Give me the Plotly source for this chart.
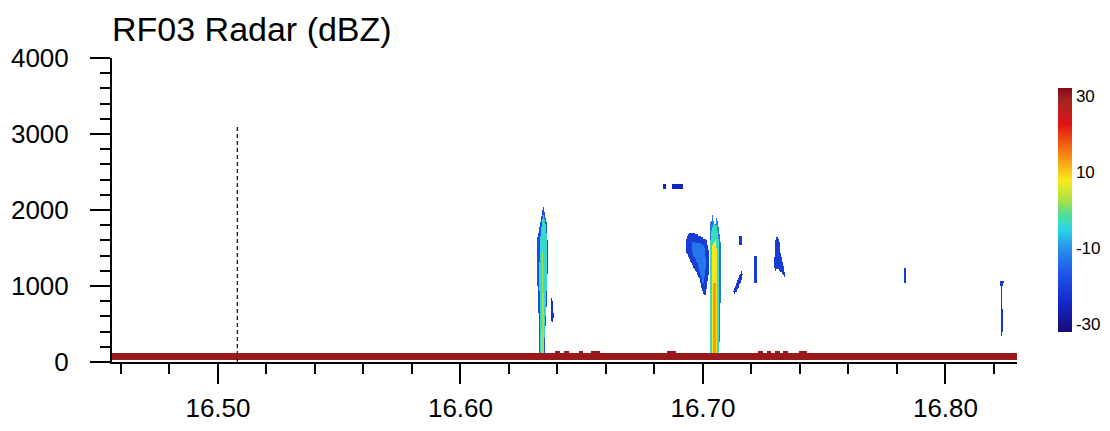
import numpy as np
import plotly.graph_objects as go

# ---- axes / scale -------------------------------------------------------
TIME_RANGE = [16.4563, 16.8295]          # UTC hours
HEIGHT_RANGE = [0, 4000]                 # metres
TIME_TICKS = [16.50, 16.60, 16.70, 16.80]
HEIGHT_TICKS = [0, 1000, 2000, 3000, 4000]
CBAR_TICKS = [-30, -10, 10, 30]
DBZ_MIN, DBZ_MAX = -32, 32

# ---- reference marker (dashed vertical) --------------------------------
MARKER_TIME = 16.508
MARKER_TOP = 3120

# ---- surface return ----------------------------------------------------
SURFACE_BASE = 15
SURFACE_TOP = 125
SURFACE_DBZ = 30
SURFACE_BUMP_TOP = 135
SURFACE_BUMP_T0 = [16.6390, 16.6428, 16.6485, 16.6538, 16.6852, 16.7228, 16.7262, 16.7300, 16.7330, 16.7395]
SURFACE_BUMP_T1 = [16.6410, 16.6445, 16.6505, 16.6575, 16.6885, 16.7245, 16.7280, 16.7318, 16.7350, 16.7430]

# ---- echo outlines: times (h), heights (m), reflectivity (dBZ) ---------
# painted in order, later layers on top
CELL_A_EDGE_T = [16.6340, 16.6353, 16.6357, 16.6357, 16.6353, 16.6348, 16.6345, 16.6322, 16.6324, 16.6320, 16.6315, 16.6315, 16.6328]
CELL_A_EDGE_H = [2066, 1830, 1600, 1170, 720, 420, 130, 130, 420, 720, 1170, 1600, 1830]
CELL_A_EDGE_DBZ = -18

CELL_A_MID_T = [16.6340, 16.6351, 16.6355, 16.6355, 16.6351, 16.6346, 16.6343, 16.6327, 16.6328, 16.6326, 16.6324, 16.6327, 16.6334]
CELL_A_MID_H = [1950, 1800, 1600, 1170, 720, 420, 130, 130, 420, 720, 1170, 1600, 1800]
CELL_A_MID_DBZ = -4

CELL_A_CORE_T = [16.6337, 16.6341, 16.6342, 16.6341, 16.6332, 16.6333, 16.6334]
CELL_A_CORE_H = [1450, 900, 420, 130, 130, 420, 900]
CELL_A_CORE_DBZ = 2

CELL_A_SIDE_T = [16.6375, 16.6381, 16.6386, 16.6381, 16.6374, 16.6376]
CELL_A_SIDE_H = [860, 800, 600, 510, 560, 700]
CELL_A_SIDE_DBZ = -23

CELL_B_EDGE_T = [16.7029, 16.7035, 16.7039, 16.7041, 16.7050, 16.7058, 16.7066, 16.7074, 16.7074, 16.7068, 16.7027, 16.7025, 16.7025]
CELL_B_EDGE_H = [1700, 1900, 1800, 1940, 1780, 1910, 1750, 1550, 900, 130, 130, 900, 1400]
CELL_B_EDGE_DBZ = -13

CELL_B_MID_T = [16.7035, 16.7044, 16.7058, 16.7066, 16.7069, 16.7065, 16.7031, 16.7030, 16.7031]
CELL_B_MID_H = [1700, 1820, 1800, 1600, 900, 130, 130, 900, 1500]
CELL_B_MID_DBZ = -3

CELL_B_HOT_T = [16.7041, 16.7054, 16.7060, 16.7061, 16.7059, 16.7037, 16.7038, 16.7039]
CELL_B_HOT_H = [1550, 1600, 1400, 800, 130, 130, 800, 1300]
CELL_B_HOT_DBZ = 8

CELL_B_CORE_T = [16.7045, 16.7054, 16.7056, 16.7055, 16.7043, 16.7043]
CELL_B_CORE_H = [1050, 1050, 500, 130, 130, 500]
CELL_B_CORE_DBZ = 13

ANVIL_B_T = [16.6930, 16.6946, 16.6971, 16.6988, 16.7012, 16.7021, 16.7021, 16.7008, 16.6996, 16.6984, 16.6963, 16.6942, 16.6930]
ANVIL_B_H = [1605, 1711, 1684, 1658, 1605, 1474, 1145, 855, 948, 1105, 1237, 1369, 1474]
ANVIL_B_DBZ = -21

ANVIL_B_INNER_T = [16.6955, 16.7004, 16.7012, 16.7000, 16.6975, 16.6955]
ANVIL_B_INNER_H = [1579, 1540, 1277, 1013, 1316, 1448]
ANVIL_B_INNER_DBZ = -13

FRAG_HIGH_1_T = [16.6836, 16.6848, 16.6848, 16.6836]
FRAG_HIGH_1_H = [2335, 2335, 2285, 2285]
FRAG_HIGH_2_T = [16.6872, 16.6918, 16.6918, 16.6872]
FRAG_HIGH_2_H = [2345, 2335, 2275, 2285]
FRAG_HIGH_DBZ = -25

FRAG_DOT_T = [16.7147, 16.7158, 16.7158, 16.7147]
FRAG_DOT_H = [1660, 1660, 1540, 1540]
FRAG_DOT_DBZ = -22

FRAG_STREAK_T = [16.7209, 16.7222, 16.7222, 16.7209]
FRAG_STREAK_H = [1410, 1410, 1040, 1040]
FRAG_STREAK_DBZ = -21

FRAG_WAVE_T = [16.7124, 16.7134, 16.7150, 16.7160, 16.7166, 16.7152, 16.7137, 16.7126]
FRAG_WAVE_H = [940, 1010, 1150, 1215, 1140, 1040, 920, 900]
FRAG_WAVE_DBZ = -22

FRAG_CLUSTER_T = [16.7303, 16.7316, 16.7320, 16.7331, 16.7340, 16.7327, 16.7310, 16.7294, 16.7290, 16.7298, 16.7300]
FRAG_CLUSTER_H = [1650, 1620, 1450, 1300, 1110, 1170, 1220, 1200, 1350, 1450, 1580]
FRAG_CLUSTER_DBZ = -21

FRAG_EAST_1_T = [16.7828, 16.7838, 16.7838, 16.7828]
FRAG_EAST_1_H = [1240, 1240, 1040, 1040]
FRAG_EAST_1_DBZ = -21

FRAG_EAST_2_T = [16.8224, 16.8242, 16.8234, 16.8237, 16.8240, 16.8234, 16.8228, 16.8229, 16.8226]
FRAG_EAST_2_H = [1055, 1055, 980, 700, 500, 316, 400, 700, 950]
FRAG_EAST_2_DBZ = -22

# ---- colour table (fraction of DBZ range -> colour) --------------------
COLOR_STOPS = [
    (0.00, "rgb(22,12,120)"),
    (0.12, "rgb(20,40,200)"),
    (0.25, "rgb(30,90,235)"),
    (0.35, "rgb(40,150,235)"),
    (0.42, "rgb(40,215,230)"),
    (0.48, "rgb(80,220,150)"),
    (0.54, "rgb(170,225,70)"),
    (0.62, "rgb(250,235,30)"),
    (0.72, "rgb(250,140,20)"),
    (0.85, "rgb(225,20,20)"),
    (0.95, "rgb(165,35,35)"),
    (1.00, "rgb(130,10,20)"),
]

FONT = "Liberation Sans, Arial, Helvetica, sans-serif"

# ---- build the reflectivity field --------------------------------------
t_grid = np.arange(TIME_RANGE[0] + 0.0002, TIME_RANGE[1], 0.0004)
h_grid = np.arange(10, 4000, 20)
T, H = np.meshgrid(t_grid, h_grid)
field = np.full(T.shape, np.nan)


def inside(pt, ph):
    """Even-odd point-in-polygon test over the whole grid."""
    mask = np.zeros(T.shape, dtype=bool)
    n = len(pt)
    j = n - 1
    for i in range(n):
        ti, hi, tj, hj = pt[i], ph[i], pt[j], ph[j]
        if hi != hj:
            crosses = (hi > H) != (hj > H)
            t_cross = (tj - ti) * (H - hi) / (hj - hi) + ti
            mask ^= crosses & (T < t_cross)
        j = i
    return mask


# surface return along the bottom
field[(H >= SURFACE_BASE) & (H <= SURFACE_TOP)] = SURFACE_DBZ
for a, b in zip(SURFACE_BUMP_T0, SURFACE_BUMP_T1):
    field[(H >= SURFACE_BASE) & (H <= SURFACE_BUMP_TOP) & (T >= a) & (T <= b)] = SURFACE_DBZ

layers = [
    (CELL_A_EDGE_T, CELL_A_EDGE_H, CELL_A_EDGE_DBZ),
    (CELL_A_MID_T, CELL_A_MID_H, CELL_A_MID_DBZ),
    (CELL_A_CORE_T, CELL_A_CORE_H, CELL_A_CORE_DBZ),
    (CELL_A_SIDE_T, CELL_A_SIDE_H, CELL_A_SIDE_DBZ),
    (ANVIL_B_T, ANVIL_B_H, ANVIL_B_DBZ),
    (ANVIL_B_INNER_T, ANVIL_B_INNER_H, ANVIL_B_INNER_DBZ),
    (CELL_B_EDGE_T, CELL_B_EDGE_H, CELL_B_EDGE_DBZ),
    (CELL_B_MID_T, CELL_B_MID_H, CELL_B_MID_DBZ),
    (CELL_B_HOT_T, CELL_B_HOT_H, CELL_B_HOT_DBZ),
    (CELL_B_CORE_T, CELL_B_CORE_H, CELL_B_CORE_DBZ),
    (FRAG_HIGH_1_T, FRAG_HIGH_1_H, FRAG_HIGH_DBZ),
    (FRAG_HIGH_2_T, FRAG_HIGH_2_H, FRAG_HIGH_DBZ),
    (FRAG_DOT_T, FRAG_DOT_H, FRAG_DOT_DBZ),
    (FRAG_STREAK_T, FRAG_STREAK_H, FRAG_STREAK_DBZ),
    (FRAG_WAVE_T, FRAG_WAVE_H, FRAG_WAVE_DBZ),
    (FRAG_CLUSTER_T, FRAG_CLUSTER_H, FRAG_CLUSTER_DBZ),
    (FRAG_EAST_1_T, FRAG_EAST_1_H, FRAG_EAST_1_DBZ),
    (FRAG_EAST_2_T, FRAG_EAST_2_H, FRAG_EAST_2_DBZ),
]
for pt, ph, dbz in layers:
    field[inside(pt, ph)] = dbz

z = [[None if np.isnan(v) else float(v) for v in row] for row in field]

fig = go.Figure()

fig.add_trace(go.Heatmap(
    x=t_grid, y=h_grid, z=z,
    zmin=DBZ_MIN, zmax=DBZ_MAX,
    colorscale=[[f, c] for f, c in COLOR_STOPS],
    zsmooth=False,
    hoverinfo="skip",
    colorbar=dict(
        x=(1058 - 112) / 905, xanchor="left", xref="paper", xpad=0,
        y=0.5, yanchor="middle", ypad=0,
        len=244 / 304, lenmode="fraction",
        thickness=14, thicknessmode="pixels",
        outlinewidth=0,
        tickvals=CBAR_TICKS, ticktext=[str(v) for v in CBAR_TICKS], ticks="",
        ticklabelposition="outside",
        tickfont=dict(family=FONT, size=17, color="black"),
    ),
))

fig.add_trace(go.Scatter(
    x=[MARKER_TIME, MARKER_TIME], y=[0, MARKER_TOP],
    mode="lines",
    line=dict(color="#222222", width=1.4, dash="4px,3px"),
    hoverinfo="skip", showlegend=False,
))

fig.update_layout(
    width=1110, height=431,
    margin=dict(l=112, r=93, t=58, b=69, autoexpand=False),
    paper_bgcolor="white", plot_bgcolor="white",
    showlegend=False,
    title=dict(
        text="RF03 Radar (dBZ)",
        x=0, xref="paper", xanchor="left",
        y=1 - 29 / 431, yref="container", yanchor="middle",
        font=dict(family=FONT, size=34, color="black"),
    ),
    xaxis=dict(
        range=TIME_RANGE,
        tickvals=TIME_TICKS, ticktext=[f"{v:.2f}" for v in TIME_TICKS],
        ticks="outside", ticklen=20, tickwidth=2, tickcolor="black",
        minor=dict(dtick=0.02, tick0=16.46, ticks="outside", ticklen=10,
                   tickwidth=1.5, tickcolor="black", showgrid=False),
        showline=True, linecolor="black", linewidth=2,
        showgrid=False, zeroline=False,
        ticklabelstandoff=2,
        automargin=False,
        tickfont=dict(family=FONT, size=26, color="black"),
    ),
    yaxis=dict(
        range=HEIGHT_RANGE,
        tickvals=HEIGHT_TICKS,
        ticks="outside", ticklen=20, tickwidth=2, tickcolor="black",
        minor=dict(dtick=200, ticks="outside", ticklen=10,
                   tickwidth=1.5, tickcolor="black", showgrid=False),
        showline=True, linecolor="black", linewidth=2,
        showgrid=False, zeroline=False,
        ticklabelstandoff=16,
        automargin=False,
        tickfont=dict(family=FONT, size=26, color="black"),
    ),
)

fig.write_html("out.html")
